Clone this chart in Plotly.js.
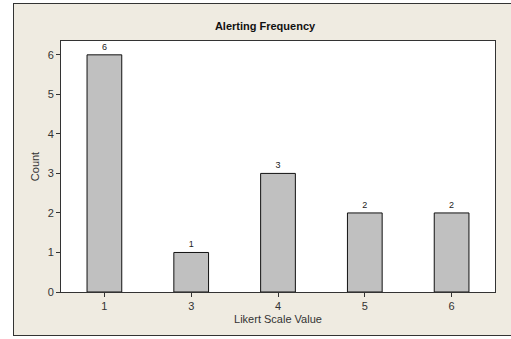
<!DOCTYPE html>
<html>
<head>
<meta charset="utf-8">
<script src="https://cdn.plot.ly/plotly-3.0.1.min.js"></script>
<style>
  html, body { margin: 0; padding: 0; width: 511px; height: 339px; overflow: hidden; background: #ffffff; }
  #frame { position: absolute; left: 13px; top: 3px; width: 520px; height: 333px; background: #efebe1; border: 1px solid #333333; box-sizing: border-box; }
  #chart { position: absolute; left: 0; top: 0; width: 511px; height: 339px; }
</style>
</head>
<body>
<div id="frame"></div>
<div id="chart"></div>
<script>
const categories = ["1", "3", "4", "5", "6"];
const counts = [6, 1, 3, 2, 2];
const yTicks = [0, 1, 2, 3, 4, 5, 6];

const trace = {
  type: "bar",
  x: categories,
  y: counts,
  text: counts.map(String),
  textposition: "outside",
  cliponaxis: false,
  textfont: { family: "Liberation Sans, Arial, sans-serif", size: 9, color: "#222222" },
  marker: { color: "#c0c0c0", line: { color: "#111111", width: 1 } },
  hoverinfo: "none"
};

const layout = {
  width: 511,
  height: 339,
  margin: { l: 61, r: 16, t: 41, b: 47, pad: 0 },
  paper_bgcolor: "rgba(0,0,0,0)",
  plot_bgcolor: "#ffffff",
  font: { family: "Liberation Sans, Arial, sans-serif", size: 11, color: "#333333" },
  showlegend: false,
  bargap: 0.6,
  title: {
    text: "<b>Alerting Frequency</b>",
    font: { size: 11, color: "#111111" },
    x: 0.5186, xref: "container", xanchor: "center",
    y: 0.923, yref: "container", yanchor: "middle"
  },
  xaxis: {
    type: "category",
    range: [-0.5, 4.5],
    showgrid: false,
    zeroline: false,
    showline: true, linecolor: "#333333", linewidth: 1, mirror: true,
    ticks: "outside", ticklen: 4, tickcolor: "#333333",
    tickfont: { size: 11, color: "#333333" },
    title: { text: "Likert Scale Value", font: { size: 11, color: "#333333" }, standoff: 4 }
  },
  yaxis: {
    range: [0, 6.35],
    tickvals: yTicks,
    showgrid: false,
    zeroline: false,
    showline: true, linecolor: "#333333", linewidth: 1, mirror: true,
    ticks: "outside", ticklen: 4, tickcolor: "#333333",
    tickfont: { size: 11, color: "#333333" },
    title: { text: "Count", font: { size: 11, color: "#333333" }, standoff: 5 }
  }
};

Plotly.newPlot("chart", [trace], layout, { staticPlot: true, displayModeBar: false });
</script>
</body>
</html>
